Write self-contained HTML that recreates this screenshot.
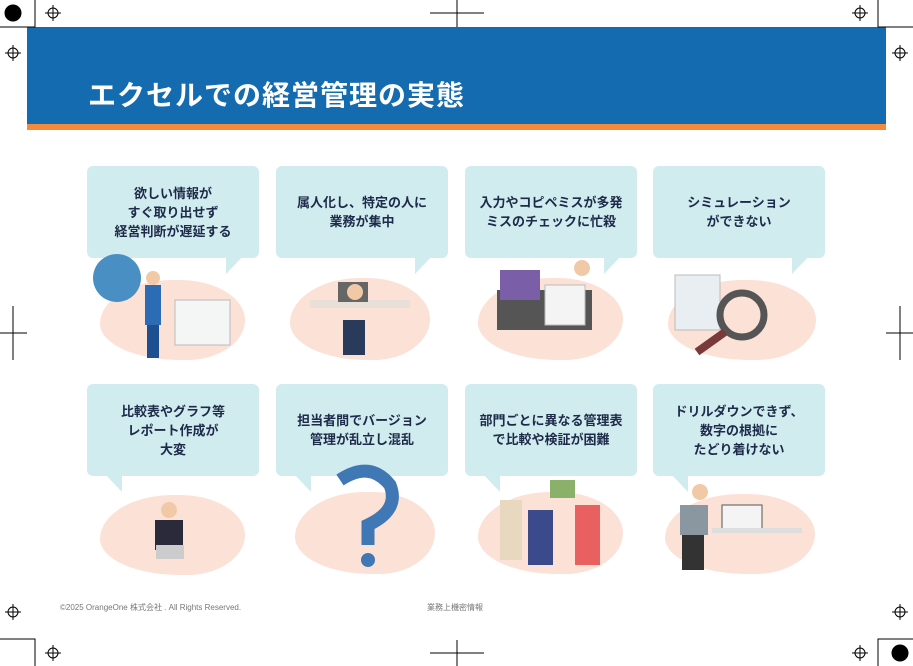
<!DOCTYPE html>
<html><head><meta charset="utf-8"><style>
body{margin:0;width:913px;height:666px;background:#fff;position:relative;overflow:hidden;font-family:"Liberation Sans","Noto Sans CJK JP",sans-serif}
.a{position:absolute}
.hdr{left:27px;top:27px;width:859px;height:97px;background:#156bb0}
.org{left:27px;top:124px;width:859px;height:6px;background:#f58a3a}
.title{left:88px;top:74px;color:#fff;font-size:28px;font-weight:bold;letter-spacing:1px}
.b{width:172px;height:92px;background:#d0ecee;border-radius:6px;display:flex;align-items:center;justify-content:center;text-align:center;color:#1e2a4a;font-size:13px;line-height:19px;font-weight:bold}
.blob{background:#fbe1d6;border-radius:50% 45% 40% 55%/55% 50% 50% 45%}
.ft{font-size:8px;color:#777}
</style></head><body>
<div class="a hdr"></div><div class="a org"></div>
<div class="a title">エクセルでの経営管理の実態</div>

<svg class="a" style="left:0;top:0" width="913" height="666">
<g fill="#d0ecee">
<polygon points="226,255 244,255 226,274"/><polygon points="415,255 433,255 415,274"/><polygon points="604,255 622,255 604,274"/><polygon points="792,255 810,255 792,274"/>
<polygon points="104,473 122,473 122,492"/><polygon points="293,473 311,473 311,492"/><polygon points="482,473 500,473 500,492"/><polygon points="670,473 688,473 688,492"/>
</g>
<g stroke="#000" fill="none" stroke-width="1">
<circle cx="13" cy="13" r="8" fill="#000"/><circle cx="900" cy="653" r="8" fill="#000"/>
<circle cx="53" cy="13" r="5"/><line x1="45" y1="13" x2="61" y2="13"/><line x1="53" y1="5" x2="53" y2="21"/>
<circle cx="13" cy="53" r="5"/><line x1="5" y1="53" x2="21" y2="53"/><line x1="13" y1="45" x2="13" y2="61"/>
<circle cx="860" cy="13" r="5"/><line x1="852" y1="13" x2="868" y2="13"/><line x1="860" y1="5" x2="860" y2="21"/>
<circle cx="900" cy="53" r="5"/><line x1="892" y1="53" x2="908" y2="53"/><line x1="900" y1="45" x2="900" y2="61"/>
<circle cx="13" cy="612" r="5"/><line x1="5" y1="612" x2="21" y2="612"/><line x1="13" y1="604" x2="13" y2="620"/>
<circle cx="53" cy="653" r="5"/><line x1="45" y1="653" x2="61" y2="653"/><line x1="53" y1="645" x2="53" y2="661"/>
<circle cx="900" cy="612" r="5"/><line x1="892" y1="612" x2="908" y2="612"/><line x1="900" y1="604" x2="900" y2="620"/>
<circle cx="860" cy="653" r="5"/><line x1="852" y1="653" x2="868" y2="653"/><line x1="860" y1="645" x2="860" y2="661"/>
<line x1="430" y1="13" x2="484" y2="13"/><line x1="457" y1="0" x2="457" y2="27"/>
<line x1="430" y1="653" x2="484" y2="653"/><line x1="457" y1="640" x2="457" y2="666"/>
<line x1="0" y1="333" x2="27" y2="333"/><line x1="13" y1="306" x2="13" y2="360"/>
<line x1="886" y1="333" x2="913" y2="333"/><line x1="900" y1="306" x2="900" y2="360"/>
<polyline points="0,27 35,27 35,0"/><polyline points="878,0 878,27 913,27"/>
<polyline points="0,639 35,639 35,666"/><polyline points="913,639 878,639 878,666"/>
</g>
</svg>

<div class="a b" style="left:87px;top:166px">欲しい情報が<br>すぐ取り出せず<br>経営判断が遅延する</div>
<div class="a b" style="left:276px;top:166px">属人化し、特定の人に<br>業務が集中</div>
<div class="a b" style="left:465px;top:166px">入力やコピペミスが多発<br>ミスのチェックに忙殺</div>
<div class="a b" style="left:653px;top:166px">シミュレーション<br>ができない</div>
<div class="a b" style="left:87px;top:384px">比較表やグラフ等<br>レポート作成が<br>大変</div>
<div class="a b" style="left:276px;top:384px">担当者間でバージョン<br>管理が乱立し混乱</div>
<div class="a b" style="left:465px;top:384px">部門ごとに異なる管理表<br>で比較や検証が困難</div>
<div class="a b" style="left:653px;top:384px">ドリルダウンできず、<br>数字の根拠に<br>たどり着けない</div>

<div class="a blob" style="left:100px;top:280px;width:145px;height:80px"></div>
<div class="a blob" style="left:290px;top:278px;width:140px;height:82px"></div>
<div class="a blob" style="left:478px;top:278px;width:145px;height:82px"></div>
<div class="a blob" style="left:668px;top:280px;width:148px;height:80px"></div>
<div class="a blob" style="left:100px;top:495px;width:145px;height:80px"></div>
<div class="a blob" style="left:295px;top:492px;width:140px;height:82px"></div>
<div class="a blob" style="left:478px;top:492px;width:145px;height:82px"></div>
<div class="a blob" style="left:665px;top:494px;width:150px;height:80px"></div>

<svg class="a" style="left:0;top:0" width="913" height="666">
<circle cx="117" cy="278" r="24" fill="#4a8fc4"/>
<rect x="145" y="285" width="16" height="40" fill="#2b6cb5"/><rect x="147" y="325" width="12" height="33" fill="#1d4f91"/><circle cx="153" cy="278" r="7" fill="#f2c9a6"/>
<rect x="175" y="300" width="55" height="45" fill="#f4f6f5" stroke="#bbb"/>
<rect x="310" y="300" width="100" height="8" fill="#e8e0d8"/><rect x="338" y="282" width="30" height="20" fill="#666"/><circle cx="355" cy="292" r="8" fill="#f2c9a6"/><rect x="343" y="320" width="22" height="35" fill="#2a3a5a"/>
<rect x="497" y="290" width="95" height="40" fill="#555"/><rect x="500" y="270" width="40" height="30" fill="#7a5fa8"/><rect x="545" y="285" width="40" height="40" fill="#f4f4f4" stroke="#bbb"/><circle cx="582" cy="268" r="8" fill="#f2c9a6"/>
<rect x="675" y="275" width="45" height="55" fill="#e8eef2" stroke="#bbb"/><circle cx="742" cy="315" r="22" fill="none" stroke="#555" stroke-width="7"/><line x1="725" y1="332" x2="697" y2="352" stroke="#7a3a3a" stroke-width="8"/>
<rect x="155" y="520" width="28" height="30" fill="#2a2a3a"/><circle cx="169" cy="510" r="8" fill="#f2c9a6"/><rect x="156" y="545" width="28" height="14" fill="#ccc"/>
<path d="M340 480 q30 -20 50 5 q10 25 -22 40 v20" fill="none" stroke="#3f78b4" stroke-width="13"/><circle cx="368" cy="560" r="7" fill="#3f78b4"/>
<rect x="500" y="500" width="22" height="60" fill="#e8d8c0"/><rect x="528" y="510" width="25" height="55" fill="#3a4a8a"/><rect x="575" y="505" width="25" height="60" fill="#e86060"/><rect x="550" y="480" width="25" height="18" fill="#8ab06a"/>
<rect x="680" y="505" width="28" height="30" fill="#8a96a0"/><rect x="682" y="535" width="22" height="35" fill="#333"/><circle cx="700" cy="492" r="8" fill="#f2c9a6"/><rect x="722" y="505" width="40" height="25" fill="#f4f4f4" stroke="#555"/><rect x="712" y="528" width="90" height="5" fill="#ddd"/>
</svg>

<div class="a ft" style="left:60px;top:602px">©2025 OrangeOne 株式会社 . All Rights Reserved.</div>
<div class="a ft" style="left:427px;top:602px">業務上機密情報</div>
</body></html>
